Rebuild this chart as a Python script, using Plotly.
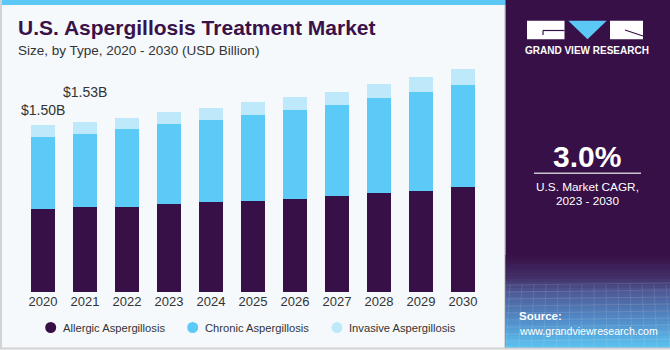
import plotly.graph_objects as go

years = ["2020", "2021", "2022", "2023", "2024", "2025", "2026", "2027", "2028", "2029", "2030"]
allergic = [0.744, 0.762, 0.768, 0.792, 0.807, 0.822, 0.840, 0.861, 0.891, 0.909, 0.945]
chronic = [0.648, 0.662, 0.699, 0.723, 0.738, 0.774, 0.801, 0.822, 0.852, 0.894, 0.921]
invasive = [0.108, 0.106, 0.102, 0.105, 0.108, 0.111, 0.114, 0.120, 0.126, 0.132, 0.138]
series_names = ["Allergic Aspergillosis", "Chronic Aspergillosis", "Invasive Aspergillosis"]
series_colors = ["#371047", "#5BCAF6", "#BDE9FA"]
value_labels = {"2020": "$1.50B", "2021": "$1.53B"}
label_shift = {"2020": 5, "2021": 20}

W, H = 670, 350
ML, MR, MT, MB = 22, 186, 59, 58
PW, PH = W - ML - MR, H - MT - MB


def px(x):
    return (x - ML) / PW


def py(y):
    return (H - MB - y) / PH


fig = go.Figure()
for name, vals, col in zip(series_names, [allergic, chronic, invasive], series_colors):
    fig.add_trace(go.Bar(x=years, y=vals, name=name, marker=dict(color=col, line=dict(width=0)),
                         width=0.58, showlegend=False, hoverinfo="x+y+name"))

FONT = "Liberation Sans"
totals = [a + c + i for a, c, i in zip(allergic, chronic, invasive)]
annotations = []
for idx, (yr, tot) in enumerate(zip(years, totals)):
    if yr in value_labels:
        annotations.append(dict(x=idx, y=tot, xref="x", yref="y", text=value_labels[yr], showarrow=False,
                                yanchor="bottom", xanchor="center", yshift=label_shift[yr],
                                font=dict(size=14, color="#333333", family=FONT)))

shapes = []
# outer border
shapes.append(dict(type="line", xref="paper", yref="paper", x0=px(1), x1=px(1), y0=py(0), y1=py(349),
                   line=dict(color="#D2D2D2", width=2), layer="above"))
shapes.append(dict(type="line", xref="paper", yref="paper", x0=px(0), x1=px(670), y0=py(348.5), y1=py(348.5),
                   line=dict(color="#D2D2D2", width=2), layer="above"))
# top stripe
shapes.append(dict(type="rect", xref="paper", yref="paper", x0=px(0), x1=px(506), y0=py(0), y1=py(5),
                   fillcolor="#5BC8F5", line=dict(width=0), layer="below"))
# right panel
shapes.append(dict(type="line", xref="paper", yref="paper", x0=px(504.5), x1=px(504.5), y0=py(5), y1=py(348),
                   line=dict(color="#D8D8D8", width=1), layer="below"))
shapes.append(dict(type="rect", xref="paper", yref="paper", x0=px(505.5), x1=px(671), y0=py(0), y1=py(348),
                   fillcolor="#371047", line=dict(width=0), layer="below"))

# gradient at bottom of panel
stops = [(255, (55, 16, 71)), (278, (66, 48, 104)), (292, (78, 90, 150)), (320, (82, 140, 200)), (348, (92, 196, 240))]


def color_at(y):
    for (y0, c0), (y1, c1) in zip(stops[:-1], stops[1:]):
        if y0 <= y <= y1:
            t = (y - y0) / (y1 - y0)
            return "rgb(%d,%d,%d)" % tuple(round(a + (b - a) * t) for a, b in zip(c0, c1))
    return "rgb(%d,%d,%d)" % stops[-1][1]


step = 3
yy = 255
while yy < 348:
    shapes.append(dict(type="rect", xref="paper", yref="paper", x0=px(505.5), x1=px(671), y0=py(yy), y1=py(min(yy + step, 348)),
                       fillcolor=color_at(yy + step / 2), line=dict(width=0), layer="below"))
    yy += step
# faint mesh lines
for i in range(9):
    ylin = 285 + i * 7
    shapes.append(dict(type="line", xref="paper", yref="paper", x0=px(506), x1=px(670), y0=py(ylin), y1=py(ylin - 2),
                       line=dict(color="rgba(255,255,255,0.12)", width=1), layer="below"))
for i in range(14):
    xl = 510 + i * 12
    shapes.append(dict(type="line", xref="paper", yref="paper", x0=px(xl), x1=px(xl - 4 + i * 0.6), y0=py(284), y1=py(348),
                       line=dict(color="rgba(255,255,255,0.10)", width=1), layer="below"))

# logo
shapes.append(dict(type="rect", xref="paper", yref="paper", x0=px(527), x1=px(564.5), y0=py(20.7), y1=py(39.3),
                   fillcolor="white", line=dict(width=0)))
shapes.append(dict(type="path", xref="paper", yref="paper",
                   path="M %f %f L %f %f L %f %f Z" % (px(568.3), py(20.7), px(606.7), py(20.7), px(587.5), py(39.3)),
                   fillcolor="#5BC8F5", line=dict(width=0)))
shapes.append(dict(type="rect", xref="paper", yref="paper", x0=px(610), x1=px(643), y0=py(20.7), y1=py(39.3),
                   fillcolor="white", line=dict(width=0)))
shapes.append(dict(type="line", xref="paper", yref="paper", x0=px(543), x1=px(564.5), y0=py(30.5), y1=py(30.5),
                   line=dict(color="#371047", width=1.2)))
shapes.append(dict(type="line", xref="paper", yref="paper", x0=px(543), x1=px(543), y0=py(30.5), y1=py(35),
                   line=dict(color="#371047", width=1.2)))
shapes.append(dict(type="line", xref="paper", yref="paper", x0=px(625), x1=px(643), y0=py(30), y1=py(36),
                   line=dict(color="#371047", width=1.2)))
# CAGR separator
shapes.append(dict(type="line", xref="paper", yref="paper", x0=px(534), x1=px(641), y0=py(173.3), y1=py(173.3),
                   line=dict(color="#C9C3D0", width=1.5)))


def add_text(text, x, y, size, color="white", bold=False, xanchor="center", family=FONT):
    annotations.append(dict(text=("<b>%s</b>" % text) if bold else text, xref="paper", yref="paper",
                            x=px(x), y=py(y), xanchor=xanchor, yanchor="middle", showarrow=False,
                            font=dict(size=size, color=color, family=family)))


# titles
add_text("U.S. Aspergillosis Treatment Market", 16, 28, 21, color="#3A1149", bold=True, xanchor="left")
add_text("Size, by Type, 2020 - 2030 (USD Billion)", 16, 50, 13.5, color="#333333", xanchor="left")

# panel texts
add_text("GRAND VIEW RESEARCH", 587, 51, 10, bold=True)
add_text("3.0%", 587, 156, 30, bold=True)
add_text("U.S. Market CAGR,", 587, 187, 11.8)
add_text("2023 - 2030", 587, 201, 11.8)
add_text("Source:", 517, 316, 11.5, bold=True, xanchor="left")
add_text("www.grandviewresearch.com", 517, 331, 10.6, xanchor="left")

# legend
legend_x = [50.7, 192.7, 337]
for name, col, lx in zip(series_names, series_colors, legend_x):
    r = 5.5
    shapes.append(dict(type="circle", xref="paper", yref="paper", x0=px(lx - r), x1=px(lx + r),
                       y0=py(327.5 - r), y1=py(327.5 + r), fillcolor=col, line=dict(width=0)))
    add_text(name, lx + 10, 327.5, 11.2, color="#333333", xanchor="left")

fig.update_layout(
    width=W, height=H,
    margin=dict(l=ML, r=MR, t=MT, b=MB, pad=0),
    paper_bgcolor="#F5F9FC", plot_bgcolor="#F5F9FC",
    barmode="stack", bargap=0.42,
    showlegend=False,
    font=dict(family=FONT, color="#333333"),
    xaxis=dict(type="category", showgrid=False, zeroline=False, showline=False, ticks="",
               tickfont=dict(size=13, color="#333333"), range=[-0.5, 10.5], fixedrange=True),
    yaxis=dict(range=[0, 2.097], visible=False, showgrid=False, zeroline=False, fixedrange=True),
    shapes=shapes,
    annotations=annotations,
)

fig.write_html("out.html")
